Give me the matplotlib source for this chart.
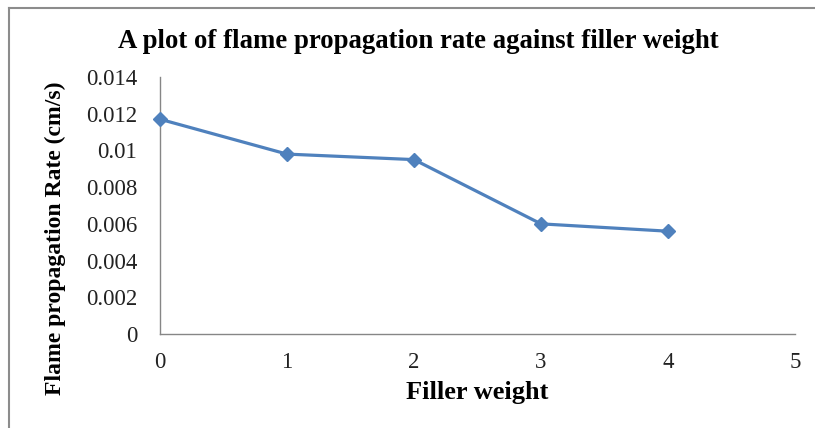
import matplotlib.pyplot as plt
from matplotlib.lines import Line2D

# data
filler_weight = [0, 1, 2, 3, 4]
flame_rate = [0.0117, 0.0098, 0.0095, 0.0060, 0.0056]
y_ticks = [0, 0.002, 0.004, 0.006, 0.008, 0.01, 0.012, 0.014]
y_labels = ['0', '0.002', '0.004', '0.006', '0.008', '0.01', '0.012', '0.014']
x_ticks = [0, 1, 2, 3, 4, 5]

plt.rcParams['font.family'] = ['Liberation Serif', 'DejaVu Serif']

fig = plt.figure(figsize=(8.15, 4.28), dpi=100)
ax = fig.add_axes([160 / 815, 1 - 334 / 428, 635 / 815, 257 / 428])

ax.plot(filler_weight, flame_rate, color='#4F81BD', lw=2.3, marker='D', ms=7.5,
        markerfacecolor='#4F81BD', markeredgecolor='#4F81BD', clip_on=False, zorder=3)

ax.set_xlim(0, 5)
ax.set_ylim(0, 0.014)
ax.set_xticks(x_ticks)
ax.set_yticks(y_ticks)
ax.set_yticklabels(y_labels)
ax.tick_params(length=0, labelsize=16.5, colors='#222222')
ax.tick_params(axis='x', pad=13)
ax.tick_params(axis='y', pad=16.5)

for s in ['top', 'right']:
    ax.spines[s].set_visible(False)
for s in ['left', 'bottom']:
    ax.spines[s].set_color('#868686')
    ax.spines[s].set_linewidth(1)

ax.set_xlabel('Filler weight', fontsize=19, fontweight='bold', labelpad=6)
fig.text(55 / 815, 1 - 238 / 428, 'Flame propagation Rate (cm/s)', rotation=90,
         ha='center', va='center', fontsize=17, fontweight='bold')
fig.text(418 / 815, 1 - 41 / 428, 'A plot of flame propagation rate against filler weight',
         ha='center', va='center', fontsize=19.3, fontweight='bold')

# outer chart border (cut off on right and bottom)
fig.add_artist(Line2D([9 / 815, 1.0], [1 - 8 / 428, 1 - 8 / 428], color='#8C8C8C', lw=1.5))
fig.add_artist(Line2D([9 / 815, 9 / 815], [0.0, 1 - 8 / 428], color='#8C8C8C', lw=1.5))

fig.savefig('out.png', dpi=100)
